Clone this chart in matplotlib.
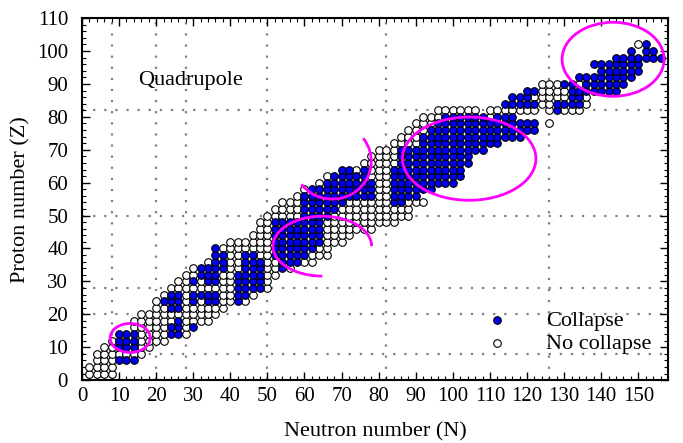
import matplotlib.pyplot as plt
from matplotlib.patches import Ellipse, Arc
from matplotlib.ticker import MultipleLocator

# even-even nuclei, one row per proton number Z
z_vals = list(range(2, 104, 2))
n_first = [2, 2, 4, 4, 6, 8, 10, 14, 14, 16, 20, 20, 22, 24, 26, 28, 30, 34, 36, 36,
           40, 46, 48, 48, 50, 52, 54, 58, 60, 64, 66, 70, 76, 78, 80, 84, 86, 88, 90, 92,
           96, 114, 116, 120, 124, 134, 140, 138, 144, 148, 150]
n_last = [8, 8, 14, 16, 18, 22, 28, 30, 34, 36, 38, 44, 46, 50, 50, 52, 56, 62, 66, 66,
          70, 72, 78, 84, 88, 88, 92, 90, 94, 100, 102, 102, 104, 104, 108, 112, 118, 122, 126, 116,
          134, 136, 136, 144, 146, 148, 150, 150, 156, 154, 152]
# runs of N (inclusive) where the quadrupole deformation collapses
collapse_runs = [
    [], [], [(10, 14)], [], [(10, 14)], [(10, 14)], [(10, 14), (24, 26)],
    [(24, 26), (30, 30)], [(26, 26)], [], [(24, 26)],
    [(22, 26), (30, 30), (34, 36), (42, 42)], [(24, 26), (30, 36), (42, 44)],
    [(42, 48)], [(30, 30), (34, 36), (42, 48)], [(32, 36), (42, 48)],
    [(32, 38), (44, 48), (54, 54)], [(36, 38), (44, 48), (54, 58)],
    [(36, 38), (44, 46), (52, 60)], [(36, 36), (52, 62)],
    [(52, 64)], [(52, 64)], [(52, 64)], [(52, 64)], [(60, 66)], [(60, 68)],
    [(60, 70), (84, 86)], [(60, 78), (84, 90)], [(62, 78), (84, 94)],
    [(66, 78), (84, 100)], [(68, 76), (84, 102)], [(70, 72), (76, 76), (84, 102)],
    [(86, 104)], [(86, 104)], [(86, 108)], [(92, 112)], [(92, 118)], [(94, 122)],
    [(96, 122)], [(98, 108), (112, 116)], [(128, 128)],
    [(114, 122), (128, 134)], [(116, 120), (132, 134)], [(120, 122), (132, 144)],
    [(130, 132), (136, 146)], [(134, 148)], [(140, 150)], [(138, 150)],
    [(144, 150), (152, 156)], [(148, 148), (152, 154)], [(152, 152)],
]
missing = [(78, 124), (82, 108), (82, 124), (100, 150)]

magic = [8, 20, 28, 50, 82, 126]

plt.rcParams['font.family'] = ['Liberation Serif', 'DejaVu Serif']

fig = plt.figure(figsize=(6.83, 4.43), dpi=100)
ax = fig.add_axes([0.12, 0.142, 0.858, 0.817])

# magic number guide lines
for m in magic:
    ax.axvline(m, color='gray', lw=1.6, ls=(0, (1, 4)), zorder=1)
    if m < 110:
        ax.axhline(m, color='gray', lw=1.6, ls=(0, (1, 4)), zorder=1)

blue_n, blue_z, white_n, white_z = [], [], [], []
for z, lo, hi, runs in zip(z_vals, n_first, n_last, collapse_runs):
    for n in range(lo, hi + 1, 2):
        if (z, n) in missing:
            continue
        if any(a <= n <= b for a, b in runs):
            blue_n.append(n)
            blue_z.append(z)
        else:
            white_n.append(n)
            white_z.append(z)

ax.scatter(white_n, white_z, s=30, facecolor='white', edgecolor='black',
           linewidth=0.8, zorder=3, label='No collapse')
ax.scatter(blue_n, blue_z, s=30, facecolor='#0000f0', edgecolor='black',
           linewidth=0.8, zorder=3, label='Collapse')

# highlighted regions
mag = '#ff00ff'
ax.add_patch(Ellipse((13, 12.8), 10.8, 8.8, fill=False, ec=mag, lw=2.0, zorder=4))
ax.add_patch(Arc((64.8, 40.7), 26.6, 18.2, theta1=0, theta2=270, ec=mag, lw=2.0, zorder=4))
ax.add_patch(Arc((67.5, 66.5), 21, 23, theta1=220, theta2=400, ec=mag, lw=2.0, zorder=4))
ax.add_patch(Ellipse((104.4, 67.3), 36, 25.3, fill=False, ec=mag, lw=2.0, zorder=4))
ax.add_patch(Ellipse((143.2, 97.5), 27.5, 22.5, fill=False, ec=mag, lw=2.0, zorder=4))

ax.text(15.2, 91, 'Quadrupole', fontsize=16, va='center')

ax.set_xlim(0, 158)
ax.set_ylim(0, 110)
ax.xaxis.set_major_locator(MultipleLocator(10))
ax.xaxis.set_minor_locator(MultipleLocator(2))
ax.yaxis.set_major_locator(MultipleLocator(10))
ax.yaxis.set_minor_locator(MultipleLocator(2))
ax.tick_params(which='both', direction='in', top=True, right=True, labelsize=15)
ax.tick_params(which='major', length=6, width=1)
ax.tick_params(which='minor', length=3, width=0.8)
ax.tick_params(axis='y', which='major', pad=10)
ax.tick_params(axis='x', which='major', pad=5)
for sp in ax.spines.values():
    sp.set_linewidth(1.5)

ax.set_xlabel('Neutron number (N)', fontsize=16, labelpad=12)
ax.set_ylabel('Proton number (Z)', fontsize=16, labelpad=5)

handles, labels = ax.get_legend_handles_labels()
ax.legend(handles[::-1], labels[::-1], loc='lower right', bbox_to_anchor=(0.995, 0.035),
          frameon=False, fontsize=16, handletextpad=1.2, labelspacing=0.1,
          borderaxespad=0.2)

fig.savefig('out.png', dpi=100)
